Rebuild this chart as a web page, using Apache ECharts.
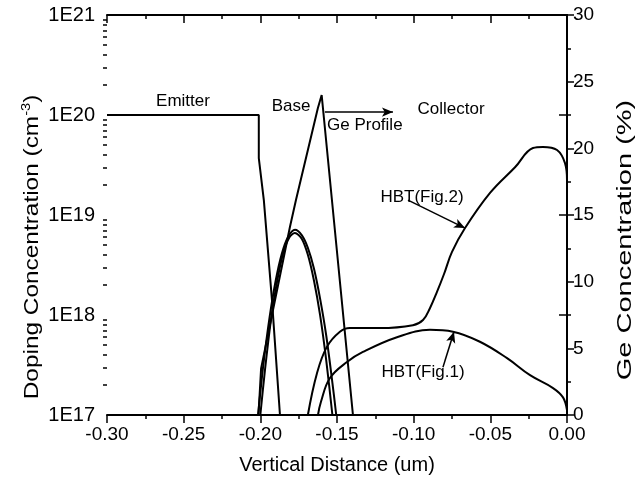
<!DOCTYPE html>
<html>
<head>
<meta charset="utf-8">
<title>Doping / Ge profile</title>
<script src="https://cdn.jsdelivr.net/npm/echarts/dist/echarts.min.js"></script>
<style>
html, body { margin: 0; padding: 0; background: #fff; }
#main { width: 642px; height: 492px; }
</style>
</head>
<body>
<div id="main"></div>
<script>
// emitter doping (cm-3)
var emitterX = [-0.30, -0.201, -0.201, -0.1977, -0.1924, -0.1872];
var emitterY = [1e20, 1e20, 3.7e19, 1.4e19, 1.4e18, 1e17];

// base doping, two runs
var baseAX = [-0.2015, -0.198, -0.194, -0.190, -0.186, -0.182, -0.1774, -0.173, -0.169, -0.165, -0.161, -0.157, -0.153, -0.1505];
var baseAY = [1e17, 3.2e17, 9.4e17, 2.2e18, 4.1e18, 6.0e18, 7.1e18, 6.3e18, 4.7e18, 2.9e18, 1.45e18, 6.2e17, 2.1e17, 1e17];
var baseBX = [-0.2000, -0.197, -0.193, -0.189, -0.185, -0.181, -0.1775, -0.173, -0.169, -0.165, -0.161, -0.157, -0.153];
var baseBY = [1e17, 2.8e17, 9.1e17, 2.2e18, 4.2e18, 6.0e18, 6.6e18, 5.8e18, 4.0e18, 2.2e18, 9.9e17, 3.5e17, 1e17];

// collector doping
var fig2X = [-0.1690, -0.1631, -0.1566, -0.1481, -0.1416, -0.1220, -0.1005, -0.0939, -0.0894, -0.0848, -0.0802, -0.0750, -0.0665, -0.0502, -0.0339, -0.0222, -0.0157, -0.0065, -0.0013, 0];
var fig2Y = [1e17, 2.6e17, 4.8e17, 6.8e17, 7.4e17, 7.4e17, 7.9e17, 8.9e17, 1.17e18, 1.7e18, 2.57e18, 4.27e18, 7.4e18, 1.66e19, 3.0e19, 4.68e19, 4.8e19, 4.47e19, 3.3e19, 2.24e19];
var fig1X = [-0.1624, -0.1605, -0.1546, -0.1435, -0.1331, -0.1109, -0.0894, -0.0744, -0.0568, -0.0391, -0.0241, -0.0091, -0.0026, 0];
var fig1Y = [1e17, 1.35e17, 2.34e17, 3.39e17, 4.27e17, 6.0e17, 7.1e17, 6.8e17, 5.4e17, 3.7e17, 2.5e17, 1.86e17, 1.5e17, 1.12e17];

// Ge profile (%)
var geX = [-0.2012, -0.1995, -0.1807, -0.1768, -0.1625, -0.1600, -0.1396];
var geY = [0, 3.5, 14.1, 16.1, 23.0, 24.0, 0];

// log axis minor ticks
var decades = [17, 18, 19, 20];
var minorMult = [2, 3, 4, 5, 6, 7, 8, 9];
var minorTicks = [];
decades.forEach(function (e) {
    minorMult.forEach(function (m) { minorTicks.push(m * Math.pow(10, e)); });
});

function pairs(xs, ys) {
    return xs.map(function (x, i) { return [x, ys[i]]; });
}

var font = 'Liberation Sans, Arial, sans-serif';
var black = '#000';

var chart = echarts.init(document.getElementById('main'));

function curve(data, yIdx, smooth) {
    return {
        type: 'line',
        yAxisIndex: yIdx,
        data: data,
        showSymbol: false,
        smooth: smooth,
        lineStyle: { color: black, width: 2 },
        animation: false
    };
}

var fig2 = curve(pairs(fig2X, fig2Y), 0, 0.4);
fig2.markLine = {
    silent: true,
    symbol: ['none', 'arrow'],
    symbolSize: [7, 11],
    label: { show: false },
    lineStyle: { type: 'solid', color: black, width: 1.5 },
    animation: false,
    data: [
        [{ coord: [-0.1579, 1.07e20] }, { coord: [-0.1135, 1.07e20] }],
        [{ coord: [-0.1037, 1.41e19] }, { coord: [-0.0665, 7.4e18] }],
        [{ coord: [-0.0809, 3.0e17] }, { coord: [-0.0737, 6.8e17] }]
    ]
};

function label(text, x, y, align) {
    return {
        type: 'text', x: x, y: y,
        style: { text: text, font: '17px ' + font, fill: black, align: align || 'center', verticalAlign: 'middle' }
    };
}

var option = {
    animation: false,
    textStyle: { fontFamily: font },
    grid: { left: 107, right: 75, top: 15, bottom: 77 },
    xAxis: [{
        type: 'value',
        position: 'bottom',
        min: -0.3,
        max: 0,
        interval: 0.05,
        name: 'Vertical Distance (um)',
        nameLocation: 'middle',
        nameGap: 40,
        nameTextStyle: { fontSize: 20, color: black, fontFamily: font },
        axisLine: { lineStyle: { color: black, width: 2 } },
        axisTick: { length: 8, lineStyle: { color: black, width: 1.5 } },
        minorTick: { show: true, splitNumber: 2, length: 4, lineStyle: { color: black, width: 1.5 } },
        axisLabel: {
            fontSize: 19, color: black, margin: 10, fontFamily: font,
            formatter: function (v) { return v.toFixed(2); }
        },
        splitLine: { show: false }
    }, {
        type: 'value',
        position: 'top',
        min: -0.3,
        max: 0,
        interval: 0.05,
        axisLine: { lineStyle: { color: black, width: 2 } },
        axisTick: { inside: true, length: 8, lineStyle: { color: black, width: 1.5 } },
        minorTick: { show: true, splitNumber: 2, length: 4, lineStyle: { color: black, width: 1.5 } },
        axisLabel: { show: false },
        splitLine: { show: false }
    }],
    yAxis: [{
        type: 'log',
        logBase: 10,
        position: 'left',
        min: 1e17,
        max: 1e21,
        axisLine: { lineStyle: { color: black, width: 2 } },
        axisTick: { length: 8, lineStyle: { color: black, width: 1.5 } },
        axisLabel: {
            fontSize: 20, color: black, margin: 12, fontFamily: font,
            formatter: function (v) { return '1E' + Math.round(Math.log10(v)); }
        },
        splitLine: { show: false }
    }, {
        type: 'value',
        position: 'right',
        min: 0,
        max: 30,
        interval: 5,
        axisLine: { lineStyle: { color: black, width: 2 } },
        axisTick: { length: 7, lineStyle: { color: black, width: 1.5 } },
        minorTick: { show: true, splitNumber: 2, length: 4, lineStyle: { color: black, width: 1.5 } },
        axisLabel: { fontSize: 19, color: black, margin: 6, fontFamily: font },
        splitLine: { show: false }
    }, {
        type: 'log',
        logBase: 10,
        position: 'left',
        min: 1e17,
        max: 1e21,
        axisLine: { show: false },
        axisTick: { customValues: minorTicks, length: 4, lineStyle: { color: black, width: 1.5 } },
        axisLabel: { show: false },
        splitLine: { show: false }
    }],
    graphic: [
        label('Emitter', 183, 101),
        label('Base', 291, 106),
        label('Ge Profile', 327, 125, 'left'),
        label('Collector', 451, 109),
        label('HBT(Fig.2)', 422, 197),
        label('HBT(Fig.1)', 423, 372),
        {
            type: 'text', x: 32, y: 247, rotation: Math.PI / 2, scaleX: 1.22,
            style: {
                text: 'Doping Concentration (cm{sup|-3})', font: '20px ' + font, fill: black,
                align: 'center', verticalAlign: 'middle',
                rich: { sup: { fontSize: 12, fontFamily: font, fill: black, padding: [0, 0, 10, 0] } }
            }
        },
        {
            type: 'text', x: 625, y: 240, rotation: Math.PI / 2, scaleX: 1.45,
            style: { text: 'Ge Concentration (%)', font: '20px ' + font, fill: black, align: 'center', verticalAlign: 'middle' }
        }
    ],
    series: [
        curve(pairs(emitterX, emitterY), 0, false),
        curve(pairs(baseAX, baseAY), 0, 0.3),
        curve(pairs(baseBX, baseBY), 0, 0.3),
        fig2,
        curve(pairs(fig1X, fig1Y), 0, 0.4),
        curve(pairs(geX, geY), 1, false)
    ]
};

chart.setOption(option);
window.onresize = chart.resize;
</script>
</body>
</html>
